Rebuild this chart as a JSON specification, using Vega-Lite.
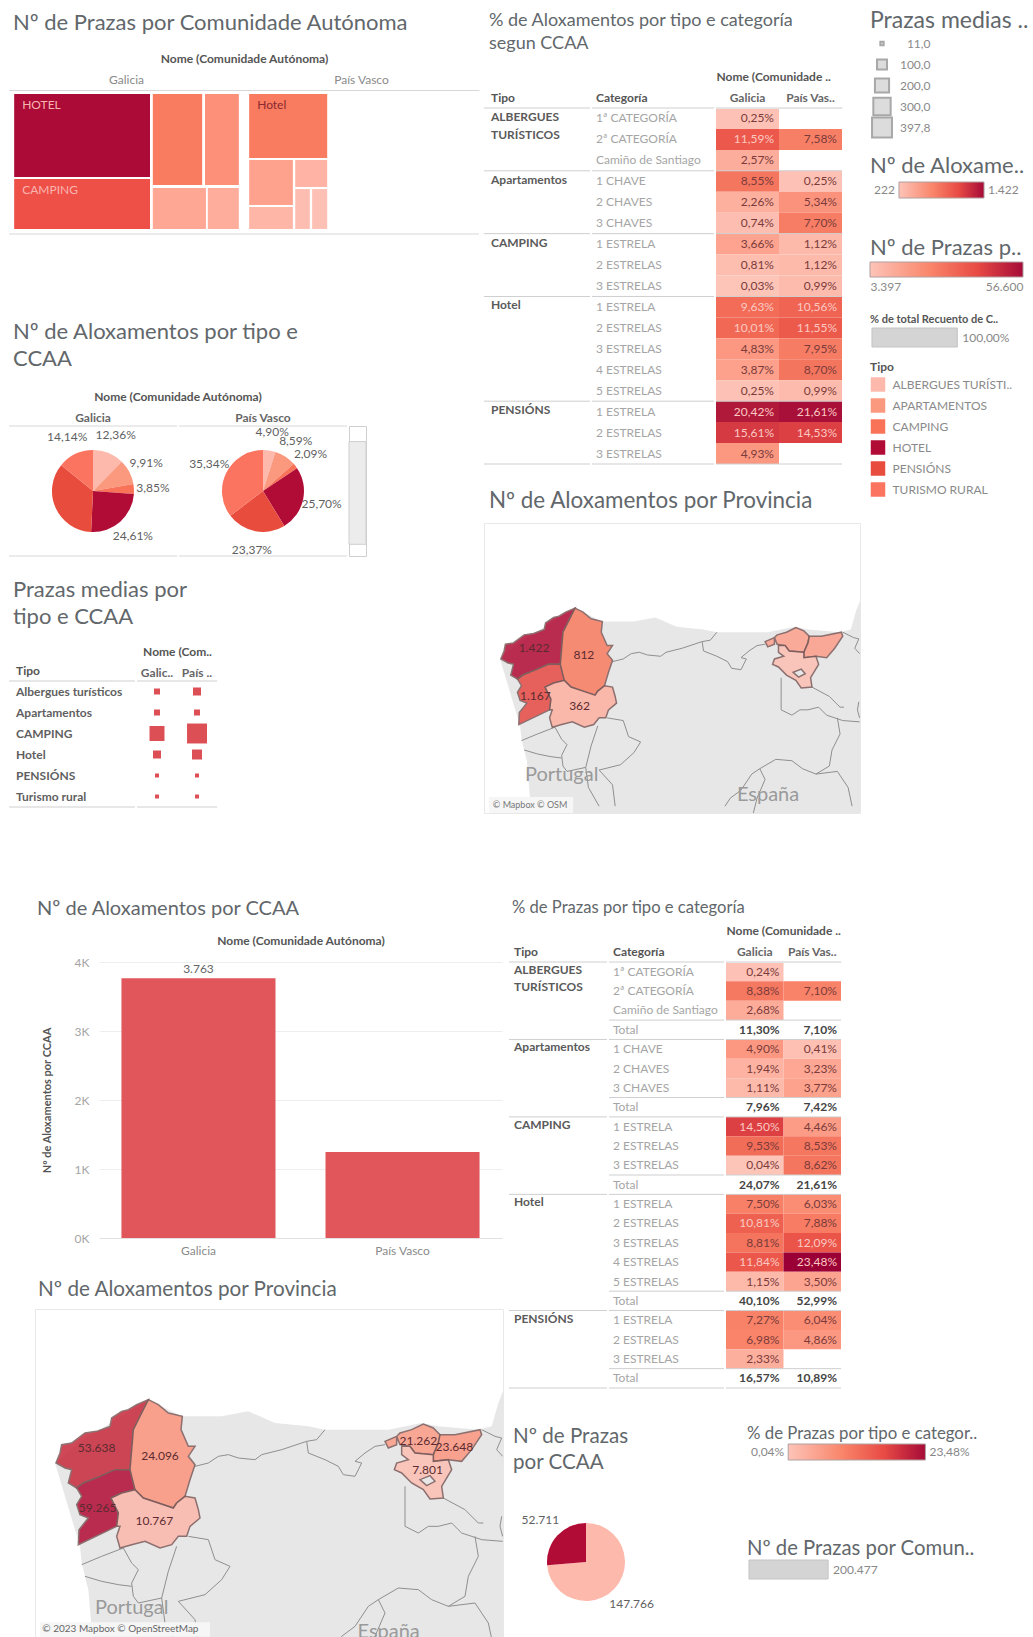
{
"$schema":"https://vega.github.io/schema/vega-lite/v6.json",
"padding":{"left":8,"top":8,"right":0,"bottom":0},
"background":"white",
"config":{"font":"Lato","view":{"stroke":null},"concat":{"spacing":0},
"title":{"anchor":"start","frame":"group","color":"#62676b","fontWeight":"normal","fontSize":22,"lineHeight":27},
"axis":{"grid":false,"ticks":false,"domain":false,"labelColor":"#8a8a8a","titleColor":"#555","labelFontSize":12,"titleFontSize":12,"titleFontWeight":"bold"},
"text":{"fontSize":12}},
"datasets":{
"tipos":[{"tipo":"ALBERGUES TURÍSTI.."},{"tipo":"APARTAMENTOS"},{"tipo":"CAMPING"},{"tipo":"HOTEL"},{"tipo":"PENSIÓNS"},{"tipo":"TURISMO RURAL"}],
"t1f":[{"fila":1,"tipo":"ALBERGUES\nTURÍSTICOS","categoria":"1ª CATEGORÍA","inicio":true},{"fila":2,"categoria":"2ª CATEGORÍA","inicio":false},{"fila":3,"categoria":"Camiño de Santiago","inicio":false},{"fila":4,"tipo":"Apartamentos","categoria":"1 CHAVE","inicio":true},{"fila":5,"categoria":"2 CHAVES","inicio":false},{"fila":6,"categoria":"3 CHAVES","inicio":false},{"fila":7,"tipo":"CAMPING","categoria":"1 ESTRELA","inicio":true},{"fila":8,"categoria":"2 ESTRELAS","inicio":false},{"fila":9,"categoria":"3 ESTRELAS","inicio":false},{"fila":10,"tipo":"Hotel","categoria":"1 ESTRELA","inicio":true},{"fila":11,"categoria":"2 ESTRELAS","inicio":false},{"fila":12,"categoria":"3 ESTRELAS","inicio":false},{"fila":13,"categoria":"4 ESTRELAS","inicio":false},{"fila":14,"categoria":"5 ESTRELAS","inicio":false},{"fila":15,"tipo":"PENSIÓNS","categoria":"1 ESTRELA","inicio":true},{"fila":16,"categoria":"2 ESTRELAS","inicio":false},{"fila":17,"categoria":"3 ESTRELAS","inicio":false}],
"t1":[{"fila":1,"ccaa":"Galicia","pct":0.25,"t":"0,25%"},{"fila":2,"ccaa":"Galicia","pct":11.59,"t":"11,59%"},{"fila":2,"ccaa":"País Vasco","pct":7.58,"t":"7,58%"},{"fila":3,"ccaa":"Galicia","pct":2.57,"t":"2,57%"},{"fila":4,"ccaa":"Galicia","pct":8.55,"t":"8,55%"},{"fila":4,"ccaa":"País Vasco","pct":0.25,"t":"0,25%"},{"fila":5,"ccaa":"Galicia","pct":2.26,"t":"2,26%"},{"fila":5,"ccaa":"País Vasco","pct":5.34,"t":"5,34%"},{"fila":6,"ccaa":"Galicia","pct":0.74,"t":"0,74%"},{"fila":6,"ccaa":"País Vasco","pct":7.70,"t":"7,70%"},{"fila":7,"ccaa":"Galicia","pct":3.66,"t":"3,66%"},{"fila":7,"ccaa":"País Vasco","pct":1.12,"t":"1,12%"},{"fila":8,"ccaa":"Galicia","pct":0.81,"t":"0,81%"},{"fila":8,"ccaa":"País Vasco","pct":1.12,"t":"1,12%"},{"fila":9,"ccaa":"Galicia","pct":0.03,"t":"0,03%"},{"fila":9,"ccaa":"País Vasco","pct":0.99,"t":"0,99%"},{"fila":10,"ccaa":"Galicia","pct":9.63,"t":"9,63%"},{"fila":10,"ccaa":"País Vasco","pct":10.56,"t":"10,56%"},{"fila":11,"ccaa":"Galicia","pct":10.01,"t":"10,01%"},{"fila":11,"ccaa":"País Vasco","pct":11.55,"t":"11,55%"},{"fila":12,"ccaa":"Galicia","pct":4.83,"t":"4,83%"},{"fila":12,"ccaa":"País Vasco","pct":7.95,"t":"7,95%"},{"fila":13,"ccaa":"Galicia","pct":3.87,"t":"3,87%"},{"fila":13,"ccaa":"País Vasco","pct":8.70,"t":"8,70%"},{"fila":14,"ccaa":"Galicia","pct":0.25,"t":"0,25%"},{"fila":14,"ccaa":"País Vasco","pct":0.99,"t":"0,99%"},{"fila":15,"ccaa":"Galicia","pct":20.42,"t":"20,42%"},{"fila":15,"ccaa":"País Vasco","pct":21.61,"t":"21,61%"},{"fila":16,"ccaa":"Galicia","pct":15.61,"t":"15,61%"},{"fila":16,"ccaa":"País Vasco","pct":14.53,"t":"14,53%"},{"fila":17,"ccaa":"Galicia","pct":4.93,"t":"4,93%"}],
"t2f":[{"fila":1,"tipo":"ALBERGUES\nTURÍSTICOS","categoria":"1ª CATEGORÍA","inicio":true,"total":false},{"fila":2,"categoria":"2ª CATEGORÍA","inicio":false,"total":false},{"fila":3,"categoria":"Camiño de Santiago","inicio":false,"total":false},{"fila":4,"categoria":"Total","inicio":false,"total":true},{"fila":5,"tipo":"Apartamentos","categoria":"1 CHAVE","inicio":true,"total":false},{"fila":6,"categoria":"2 CHAVES","inicio":false,"total":false},{"fila":7,"categoria":"3 CHAVES","inicio":false,"total":false},{"fila":8,"categoria":"Total","inicio":false,"total":true},{"fila":9,"tipo":"CAMPING","categoria":"1 ESTRELA","inicio":true,"total":false},{"fila":10,"categoria":"2 ESTRELAS","inicio":false,"total":false},{"fila":11,"categoria":"3 ESTRELAS","inicio":false,"total":false},{"fila":12,"categoria":"Total","inicio":false,"total":true},{"fila":13,"tipo":"Hotel","categoria":"1 ESTRELA","inicio":true,"total":false},{"fila":14,"categoria":"2 ESTRELAS","inicio":false,"total":false},{"fila":15,"categoria":"3 ESTRELAS","inicio":false,"total":false},{"fila":16,"categoria":"4 ESTRELAS","inicio":false,"total":false},{"fila":17,"categoria":"5 ESTRELAS","inicio":false,"total":false},{"fila":18,"categoria":"Total","inicio":false,"total":true},{"fila":19,"tipo":"PENSIÓNS","categoria":"1 ESTRELA","inicio":true,"total":false},{"fila":20,"categoria":"2 ESTRELAS","inicio":false,"total":false},{"fila":21,"categoria":"3 ESTRELAS","inicio":false,"total":false},{"fila":22,"categoria":"Total","inicio":false,"total":true}],
"t2":[{"fila":1,"ccaa":"Galicia","pct":0.24,"t":"0,24%","total":false},{"fila":2,"ccaa":"Galicia","pct":8.38,"t":"8,38%","total":false},{"fila":2,"ccaa":"País Vasco","pct":7.10,"t":"7,10%","total":false},{"fila":3,"ccaa":"Galicia","pct":2.68,"t":"2,68%","total":false},{"fila":4,"ccaa":"Galicia","pct":11.30,"t":"11,30%","total":true},{"fila":4,"ccaa":"País Vasco","pct":7.10,"t":"7,10%","total":true},{"fila":5,"ccaa":"Galicia","pct":4.90,"t":"4,90%","total":false},{"fila":5,"ccaa":"País Vasco","pct":0.41,"t":"0,41%","total":false},{"fila":6,"ccaa":"Galicia","pct":1.94,"t":"1,94%","total":false},{"fila":6,"ccaa":"País Vasco","pct":3.23,"t":"3,23%","total":false},{"fila":7,"ccaa":"Galicia","pct":1.11,"t":"1,11%","total":false},{"fila":7,"ccaa":"País Vasco","pct":3.77,"t":"3,77%","total":false},{"fila":8,"ccaa":"Galicia","pct":7.96,"t":"7,96%","total":true},{"fila":8,"ccaa":"País Vasco","pct":7.42,"t":"7,42%","total":true},{"fila":9,"ccaa":"Galicia","pct":14.50,"t":"14,50%","total":false},{"fila":9,"ccaa":"País Vasco","pct":4.46,"t":"4,46%","total":false},{"fila":10,"ccaa":"Galicia","pct":9.53,"t":"9,53%","total":false},{"fila":10,"ccaa":"País Vasco","pct":8.53,"t":"8,53%","total":false},{"fila":11,"ccaa":"Galicia","pct":0.04,"t":"0,04%","total":false},{"fila":11,"ccaa":"País Vasco","pct":8.62,"t":"8,62%","total":false},{"fila":12,"ccaa":"Galicia","pct":24.07,"t":"24,07%","total":true},{"fila":12,"ccaa":"País Vasco","pct":21.61,"t":"21,61%","total":true},{"fila":13,"ccaa":"Galicia","pct":7.50,"t":"7,50%","total":false},{"fila":13,"ccaa":"País Vasco","pct":6.03,"t":"6,03%","total":false},{"fila":14,"ccaa":"Galicia","pct":10.81,"t":"10,81%","total":false},{"fila":14,"ccaa":"País Vasco","pct":7.88,"t":"7,88%","total":false},{"fila":15,"ccaa":"Galicia","pct":8.81,"t":"8,81%","total":false},{"fila":15,"ccaa":"País Vasco","pct":12.09,"t":"12,09%","total":false},{"fila":16,"ccaa":"Galicia","pct":11.84,"t":"11,84%","total":false},{"fila":16,"ccaa":"País Vasco","pct":23.48,"t":"23,48%","total":false},{"fila":17,"ccaa":"Galicia","pct":1.15,"t":"1,15%","total":false},{"fila":17,"ccaa":"País Vasco","pct":3.50,"t":"3,50%","total":false},{"fila":18,"ccaa":"Galicia","pct":40.10,"t":"40,10%","total":true},{"fila":18,"ccaa":"País Vasco","pct":52.99,"t":"52,99%","total":true},{"fila":19,"ccaa":"Galicia","pct":7.27,"t":"7,27%","total":false},{"fila":19,"ccaa":"País Vasco","pct":6.04,"t":"6,04%","total":false},{"fila":20,"ccaa":"Galicia","pct":6.98,"t":"6,98%","total":false},{"fila":20,"ccaa":"País Vasco","pct":4.86,"t":"4,86%","total":false},{"fila":21,"ccaa":"Galicia","pct":2.33,"t":"2,33%","total":false},{"fila":22,"ccaa":"Galicia","pct":16.57,"t":"16,57%","total":true},{"fila":22,"ccaa":"País Vasco","pct":10.89,"t":"10,89%","total":true}],
"terra":[{"type":"Feature","properties":{"capa":"terra"},"geometry":{"type":"Polygon","coordinates":[[[175,830],[180,880],[200,960],[212,1100],[205,1210],[1450,1210],[1450,350],[1430,400],[1410,470],[1370,480],[1250,470],[1200,460],[1100,480],[1000,480],[910,480],[860,470],[760,460],[680,425],[600,440],[480,440],[380,390],[170,520],[100,580],[175,830]]]}}],
"linas":[{"type":"Feature","properties":{"capa":"fronteiras"},"geometry":{"type":"MultiLineString","coordinates":[[[520,590],[560,580],[590,560],[620,555],[650,565],[700,570],[720,555],[780,540],[855,515],[885,510],[910,480]],[[855,515],[860,550],[910,570],[950,590],[965,615],[1000,620],[1020,580],[1000,575],[1030,550],[1060,530],[1090,525]],[[1150,650],[1150,740],[1150,770],[1190,790],[1220,770],[1250,770],[1290,760],[1320,790],[1380,810],[1443,815]],[[1265,685],[1330,720],[1370,760],[1385,760]],[[1380,480],[1420,500],[1440,505],[1425,540],[1443,560]],[[1360,800],[1370,860],[1340,920],[1330,980],[1280,1010],[1230,990],[1190,960],[1130,955],[1070,990],[1040,1010],[1000,1070],[960,1100],[940,1130]],[[1070,990],[1090,1030],[1060,1100],[1040,1180]],[[1280,1010],[1360,1000],[1400,1060],[1415,1130]],[[1440,740],[1435,770],[1443,800]],[[180,885],[240,860],[305,835],[330,880],[350,900],[330,940],[335,980],[350,1000],[420,985],[440,905],[465,830]],[[500,800],[560,810],[580,870],[625,890],[600,930],[550,975],[470,995],[520,1050],[530,1130]],[[190,920],[240,935],[290,945],[330,950]],[[420,985],[430,1060],[470,1130]]]}}],
"provincias":[
{"type":"Feature","properties":{"nome":"A Coruña","aloxamentos":1422,"prazas":53638},"geometry":{"type":"Polygon","coordinates":[[[380,390],[345,405],[320,420],[300,425],[270,445],[265,470],[225,485],[190,490],[150,520],[120,525],[115,550],[103,580],[130,595],[150,600],[140,640],[165,655],[185,640],[235,620],[280,600],[325,600],[330,540],[335,480],[360,430],[380,390]]]}},
{"type":"Feature","properties":{"nome":"Pontevedra","aloxamentos":1167,"prazas":59265},"geometry":{"type":"Polygon","coordinates":[[[185,640],[235,620],[280,600],[325,600],[340,660],[300,670],[268,685],[290,730],[285,770],[170,825],[172,780],[200,745],[175,735],[165,705],[180,680],[165,655],[185,640]]]}},
{"type":"Feature","properties":{"nome":"Lugo","aloxamentos":812,"prazas":24096},"geometry":{"type":"Polygon","coordinates":[[[380,390],[410,405],[440,430],[482,440],[478,480],[500,530],[520,530],[500,560],[520,585],[505,630],[490,680],[465,700],[455,715],[410,700],[365,685],[340,660],[325,600],[330,540],[335,480],[360,430],[380,390]]]}},
{"type":"Feature","properties":{"nome":"Ourense","aloxamentos":362,"prazas":10767},"geometry":{"type":"Polygon","coordinates":[[[268,685],[300,670],[340,660],[365,685],[410,700],[455,715],[465,700],[490,680],[520,685],[530,720],[535,745],[505,770],[495,800],[470,800],[450,825],[415,835],[370,815],[330,825],[295,835],[285,800],[295,770],[285,770],[290,730],[268,685]]]}},
{"type":"Feature","properties":{"nome":"Bizkaia","aloxamentos":500,"prazas":21262},"geometry":{"type":"MultiPolygon","coordinates":[[[[1135,490],[1170,480],[1205,463],[1235,475],[1255,495],[1250,520],[1235,555],[1180,550],[1165,530],[1135,525],[1125,500],[1135,490]]],[[[1090,515],[1125,500],[1125,525],[1100,535],[1090,515]]]]}},
{"type":"Feature","properties":{"nome":"Gipuzkoa","aloxamentos":526,"prazas":23648},"geometry":{"type":"Polygon","coordinates":[[[1255,495],[1300,495],[1375,480],[1380,495],[1350,540],[1320,575],[1280,570],[1235,575],[1235,555],[1250,520],[1255,495]]]}},
{"type":"Feature","properties":{"nome":"Araba","aloxamentos":222,"prazas":7801},"geometry":{"type":"Polygon","coordinates":[[[1140,530],[1165,530],[1180,550],[1235,555],[1235,575],[1280,570],[1290,600],[1260,650],[1265,685],[1225,688],[1205,660],[1170,640],[1140,610],[1118,600],[1125,580],[1160,570],[1140,555],[1140,530]],[[1195,630],[1215,648],[1240,635],[1225,618],[1195,630]]]}}
],
"nomes":[{"lon":330,"lat":1015,"t":"Portugal"},{"lon":1101,"lat":1088,"t":"España"}]
},
"resolve":{"scale":{"color":"independent","size":"independent"}},
"vconcat":[
{"resolve":{"scale":{"color":"independent","size":"independent"}},"hconcat":[
 {"resolve":{"scale":{"color":"independent","size":"independent"}},"vconcat":[
  {"width":10,"height":4,"data":{"values":[{}]},"mark":{"type":"point","opacity":0,"size":1},"encoding":{}},
  {"width":470,"height":144,"title":{"text":"Nº de Prazas por Comunidade Autónoma","dx":4,"offset":17},
   "layer":[
    {"data":{"values":[{"ccaa":"Galicia"},{"ccaa":"País Vasco"}]},"mark":{"type":"point","opacity":0,"size":1},
     "encoding":{"x":{"field":"ccaa","type":"nominal","title":"Nome (Comunidade Autónoma)","scale":{"type":"band","padding":0},"axis":{"orient":"top","labelAngle":0,"domain":true,"domainColor":"#d8d8d8","labelPadding":4,"titlePadding":8}}}},
    {"data":{"values":[{"ccaa":"Galicia","tipo":"Hotel","prazas":56600,"x0":1.1,"x1":30,"y0":2.8,"y1":60.4,"t":"HOTEL"},{"ccaa":"Galicia","tipo":"Camping","prazas":33000,"x0":1.1,"x1":30,"y0":61.8,"y1":96.5,"t":"CAMPING"},{"ccaa":"Galicia","tipo":"Pensións","prazas":17000,"x0":30.6,"x1":41.1,"y0":2.8,"y1":66,"t":""},{"ccaa":"Galicia","tipo":"Turismo rural","prazas":13000,"x0":41.7,"x1":48.9,"y0":2.8,"y1":66,"t":""},{"ccaa":"Galicia","tipo":"Albergues","prazas":8500,"x0":30.6,"x1":41.9,"y0":68,"y1":96.5,"t":""},{"ccaa":"Galicia","tipo":"Apartamentos","prazas":7500,"x0":42.3,"x1":48.9,"y0":68,"y1":96.5,"t":""},{"ccaa":"País Vasco","tipo":"Hotel","prazas":17000,"x0":51.1,"x1":67.7,"y0":2.8,"y1":47.2,"t":"Hotel"},{"ccaa":"País Vasco","tipo":"Camping","prazas":9500,"x0":51.1,"x1":60.4,"y0":48.6,"y1":79.9,"t":""},{"ccaa":"País Vasco","tipo":"Turismo rural","prazas":6000,"x0":60.9,"x1":67.7,"y0":48.6,"y1":67.4,"t":""},{"ccaa":"País Vasco","tipo":"Pensións","prazas":5500,"x0":51.1,"x1":60.4,"y0":81.3,"y1":96.5,"t":""},{"ccaa":"País Vasco","tipo":"Albergues","prazas":4000,"x0":60.9,"x1":64,"y0":68.8,"y1":96.5,"t":""},{"ccaa":"País Vasco","tipo":"Apartamentos","prazas":3397,"x0":64.5,"x1":67.7,"y0":68.8,"y1":96.5,"t":""}]},
     "layer":[
      {"mark":{"type":"rect"},"encoding":{"x":{"field":"x0","type":"quantitative","scale":{"domain":[0,100]},"axis":null},"x2":{"field":"x1"},"y":{"field":"y0","type":"quantitative","scale":{"domain":[100,0]},"axis":null},"y2":{"field":"y1"},"color":{"field":"prazas","type":"quantitative","legend":null,"scale":{"domain":[3397,17000,33000,56600],"range":["#fdc0b4","#f97b60","#ee5048","#ab0b36"]}}}},
      {"mark":{"type":"text","align":"left","dx":8,"dy":11},"encoding":{"x":{"field":"x0","type":"quantitative","scale":{"domain":[0,100]},"axis":null},"y":{"field":"y0","type":"quantitative","scale":{"domain":[100,0]},"axis":null},"text":{"field":"t"},"color":{"condition":{"test":"datum.t=='Hotel'","value":"#8a2a30"},"value":"#f9b4b0"}}}
     ]},
    {"data":{"values":[{"limite":100}]},"mark":{"type":"rule","color":"#d8d8d8"},"encoding":{"y":{"field":"limite","type":"quantitative","scale":{"domain":[100,0]},"axis":null}}}
   ],
   "resolve":{"scale":{"x":"independent"}}},
  {"width":10,"height":86,"data":{"values":[{}]},"mark":{"type":"point","opacity":0,"size":1},"encoding":{}},
  {"title":{"text":["Nº de Aloxamentos por tipo e","CCAA"],"dx":4,"offset":20},
   "hconcat":[
    {"data":{"values":[{"ccaa":"Galicia","tipo":"ALBERGUES TURÍSTI..","v":12.36,"orde":1,"t":"12,36%"},{"ccaa":"Galicia","tipo":"APARTAMENTOS","v":9.91,"orde":2,"t":"9,91%"},{"ccaa":"Galicia","tipo":"CAMPING","v":3.85,"orde":3,"t":"3,85%"},{"ccaa":"Galicia","tipo":"HOTEL","v":24.61,"orde":4,"t":"24,61%"},{"ccaa":"Galicia","tipo":"PENSIÓNS","v":35.13,"orde":5,"t":""},{"ccaa":"Galicia","tipo":"TURISMO RURAL","v":14.14,"orde":6,"t":"14,14%"},{"ccaa":"País Vasco","tipo":"ALBERGUES TURÍSTI..","v":4.9,"orde":1,"t":"4,90%"},{"ccaa":"País Vasco","tipo":"APARTAMENTOS","v":8.59,"orde":2,"t":"8,59%"},{"ccaa":"País Vasco","tipo":"CAMPING","v":2.09,"orde":3,"t":"2,09%"},{"ccaa":"País Vasco","tipo":"HOTEL","v":25.7,"orde":4,"t":"25,70%"},{"ccaa":"País Vasco","tipo":"PENSIÓNS","v":23.37,"orde":5,"t":"23,37%"},{"ccaa":"País Vasco","tipo":"TURISMO RURAL","v":35.34,"orde":6,"t":"35,34%"}]},
     "spacing":0,
     "facet":{"column":{"field":"ccaa","type":"nominal","header":{"title":"Nome (Comunidade Autónoma)","titleFontSize":12,"titleFontWeight":"bold","titleColor":"#555","titlePadding":-2,"labelFontSize":12,"labelColor":"#666","labelPadding":0,"labelFontWeight":"bold"}}},
     "spec":{"width":168,"height":130,"layer":[
      {"mark":{"type":"arc","outerRadius":41},"encoding":{"theta":{"field":"v","type":"quantitative","stack":true},"order":{"field":"orde","type":"quantitative"},"color":{"field":"tipo","type":"nominal","legend":null,"scale":{"domain":["ALBERGUES TURÍSTI..","APARTAMENTOS","CAMPING","HOTEL","PENSIÓNS","TURISMO RURAL"],"range":["#fcb9ac","#fb997f","#f97359","#b10c35","#e84c3d","#fb7460"]}}}},
      {"mark":{"type":"text","radius":60,"color":"#5f5f5f"},"encoding":{"theta":{"field":"v","type":"quantitative","stack":true},"order":{"field":"orde","type":"quantitative"},"text":{"field":"t"}}},
      {"data":{"values":[{"limite":0},{"limite":1}]},"mark":{"type":"rule","color":"#d8d8d8"},"encoding":{"y":{"field":"limite","type":"quantitative","scale":{"domain":[0,1]},"axis":null}}}
     ]}},
    {"width":17,"height":130,"view":{"stroke":"#cfcfcf"},"data":{"values":[{"desde":0.12,"ata":0.91}]},"mark":{"type":"rect","fill":"#ececec","stroke":"#cfcfcf"},"encoding":{"y":{"field":"desde","type":"quantitative","scale":{"domain":[1,0]},"axis":null},"y2":{"field":"ata"}}}
   ]},
  {"width":10,"height":22,"data":{"values":[{}]},"mark":{"type":"point","opacity":0,"size":1},"encoding":{}},
  {"title":{"text":["Prazas medias por","tipo e CCAA"],"dx":4,"offset":16},
   "hconcat":[
    {"width":126,"height":126,"title":{"text":"Tipo","fontSize":12,"fontWeight":"bold","color":"#555","dx":7,"offset":3},
     "data":{"values":[{"t":"Albergues turísticos"},{"t":"Apartamentos"},{"t":"CAMPING"},{"t":"Hotel"},{"t":"PENSIÓNS"},{"t":"Turismo rural"}]},
     "layer":[
      {"mark":{"type":"text","align":"left","dx":7,"fontWeight":"bold","color":"#5f5f5f"},"encoding":{"x":{"datum":0,"type":"quantitative","scale":{"domain":[0,1]},"axis":null},"y":{"field":"t","type":"nominal","sort":null,"axis":null,"scale":{"type":"band","padding":0}},"text":{"field":"t"}}},
      {"data":{"values":[{"limite":0},{"limite":1}]},"mark":{"type":"rule","color":"#cfcfcf"},"encoding":{"y":{"field":"limite","type":"quantitative","scale":{"domain":[1,0]},"axis":null}}}
     ],"resolve":{"scale":{"y":"independent"}}},
    {"width":80,"height":126,
     "layer":[
      {"data":{"values":[{"t":"Albergues turísticos","ccaa":"Galicia","v":36},{"t":"Albergues turísticos","ccaa":"País Vasco","v":64},{"t":"Apartamentos","ccaa":"Galicia","v":36},{"t":"Apartamentos","ccaa":"País Vasco","v":36},{"t":"CAMPING","ccaa":"Galicia","v":225},{"t":"CAMPING","ccaa":"País Vasco","v":397.8},{"t":"Hotel","ccaa":"Galicia","v":64},{"t":"Hotel","ccaa":"País Vasco","v":100},{"t":"PENSIÓNS","ccaa":"Galicia","v":16},{"t":"PENSIÓNS","ccaa":"País Vasco","v":16},{"t":"Turismo rural","ccaa":"Galicia","v":16},{"t":"Turismo rural","ccaa":"País Vasco","v":16}]},
       "mark":{"type":"square","opacity":1,"color":"#dc4f55"},"encoding":{"x":{"field":"ccaa","type":"nominal","title":"Nome (Com..","scale":{"type":"band","padding":0},"axis":{"orient":"top","labelAngle":0,"labelColor":"#666","labelFontWeight":"bold","labelPadding":2,"titlePadding":8,"labelExpr":"datum.value=='Galicia'?'Galic..':'País ..'"}},"y":{"field":"t","type":"nominal","sort":null,"axis":null,"scale":{"type":"band","padding":0}},"size":{"field":"v","type":"quantitative","legend":null,"scale":{"domain":[0,400],"range":[0,400]}}}},
      {"data":{"values":[{"limite":0},{"limite":1}]},"mark":{"type":"rule","color":"#cfcfcf"},"encoding":{"y":{"field":"limite","type":"quantitative","scale":{"domain":[1,0]},"axis":null}}}
     ],"resolve":{"scale":{"y":"independent"}}}
   ]}
 ]},
 {"width":3,"height":10,"data":{"values":[{}]},"mark":{"type":"point","opacity":0,"size":1},"encoding":{}},
 {"resolve":{"scale":{"color":"independent","size":"independent"}},"vconcat":[
  {"width":10,"height":4,"data":{"values":[{}]},"mark":{"type":"point","opacity":0,"size":1},"encoding":{}},
  {"title":{"text":["% de Aloxamentos por tipo e categoría","segun CCAA"],"fontSize":18,"lineHeight":23,"dx":5,"offset":17},
   "hconcat":[
    {"width":106,"height":356,"title":{"text":"Tipo","fontSize":12,"fontWeight":"bold","color":"#555","dx":7,"offset":3},"data":{"name":"t1f"},
     "layer":[
      {"transform":[{"filter":"datum.inicio"}],"mark":{"type":"rule","color":"#cfcfcf"},"encoding":{"y":{"field":"fila","type":"ordinal","bandPosition":0,"axis":null,"scale":{"type":"band","padding":0,"domain":[1,2,3,4,5,6,7,8,9,10,11,12,13,14,15,16,17]}}}},
      {"transform":[{"filter":"datum.fila==17"}],"mark":{"type":"rule","color":"#cfcfcf"},"encoding":{"y":{"field":"fila","type":"ordinal","bandPosition":1,"axis":null,"scale":{"type":"band","padding":0,"domain":[1,2,3,4,5,6,7,8,9,10,11,12,13,14,15,16,17]}}}},
      {"transform":[{"filter":"datum.inicio"}],"mark":{"type":"text","align":"left","baseline":"top","dx":7,"dy":4,"lineBreak":"\n","lineHeight":18,"fontWeight":"bold","color":"#5a5a5a"},"encoding":{"x":{"datum":0,"type":"quantitative","scale":{"domain":[0,1]},"axis":null},"y":{"field":"fila","type":"ordinal","bandPosition":0,"axis":null,"scale":{"type":"band","padding":0,"domain":[1,2,3,4,5,6,7,8,9,10,11,12,13,14,15,16,17]}},"text":{"field":"tipo"}}}
     ]},
    {"width":122,"height":356,"title":{"text":"Categoría","fontSize":12,"fontWeight":"bold","color":"#555","dx":4,"offset":3},"data":{"name":"t1f"},
     "layer":[
      {"transform":[{"filter":"datum.inicio"}],"mark":{"type":"rule","color":"#cfcfcf"},"encoding":{"y":{"field":"fila","type":"ordinal","bandPosition":0,"axis":null,"scale":{"type":"band","padding":0,"domain":[1,2,3,4,5,6,7,8,9,10,11,12,13,14,15,16,17]}}}},
      {"transform":[{"filter":"datum.fila==17"}],"mark":{"type":"rule","color":"#cfcfcf"},"encoding":{"y":{"field":"fila","type":"ordinal","bandPosition":1,"axis":null,"scale":{"type":"band","padding":0,"domain":[1,2,3,4,5,6,7,8,9,10,11,12,13,14,15,16,17]}}}},
      {"mark":{"type":"text","align":"left","dx":4,"color":"#a5a5a5"},"encoding":{"x":{"datum":0,"type":"quantitative","scale":{"domain":[0,1]},"axis":null},"y":{"field":"fila","type":"ordinal","axis":null,"scale":{"type":"band","padding":0,"domain":[1,2,3,4,5,6,7,8,9,10,11,12,13,14,15,16,17]}},"text":{"field":"categoria"}}}
     ]},
    {"width":126,"height":356,
     "layer":[
      {"data":{"name":"t1"},"mark":{"type":"rect"},"encoding":{"x":{"field":"ccaa","type":"nominal","title":"Nome (Comunidade ..","scale":{"type":"band","padding":0,"domain":["Galicia","País Vasco"]},"axis":{"orient":"top","labelAngle":0,"labelColor":"#666","labelFontWeight":"bold","labelPadding":4,"titlePadding":8,"titleAnchor":"start","domain":true,"domainColor":"#e4e4e4","labelExpr":"datum.value=='Galicia'?'Galicia':'País Vas..'"}},"y":{"field":"fila","type":"ordinal","axis":null,"scale":{"type":"band","padding":0,"domain":[1,2,3,4,5,6,7,8,9,10,11,12,13,14,15,16,17]}},"color":{"field":"pct","type":"quantitative","legend":null,"scale":{"domain":[0,7,13,22],"range":["#fdc4b8","#f98469","#e84a44","#a50b38"]}}}},
      {"data":{"name":"t1"},"mark":{"type":"text","align":"right","dx":-5},"encoding":{"x":{"field":"ccaa","type":"nominal","bandPosition":1,"scale":{"type":"band","padding":0,"domain":["Galicia","País Vasco"]}},"y":{"field":"fila","type":"ordinal","axis":null,"scale":{"type":"band","padding":0,"domain":[1,2,3,4,5,6,7,8,9,10,11,12,13,14,15,16,17]}},"text":{"field":"t"},"color":{"condition":{"test":"datum.pct>=9.6","value":"#fbc9c2"},"value":"#7b3b3b"}}},
      {"data":{"name":"t1f"},"transform":[{"filter":"datum.inicio"}],"mark":{"type":"rule","color":"#cfcfcf"},"encoding":{"y":{"field":"fila","type":"ordinal","bandPosition":0,"axis":null,"scale":{"type":"band","padding":0,"domain":[1,2,3,4,5,6,7,8,9,10,11,12,13,14,15,16,17]}}}},
      {"data":{"name":"t1f"},"transform":[{"filter":"datum.fila==17"}],"mark":{"type":"rule","color":"#cfcfcf"},"encoding":{"y":{"field":"fila","type":"ordinal","bandPosition":1,"axis":null,"scale":{"type":"band","padding":0,"domain":[1,2,3,4,5,6,7,8,9,10,11,12,13,14,15,16,17]}}}}
     ]}
   ]},
  {"width":10,"height":24,"data":{"values":[{}]},"mark":{"type":"point","opacity":0,"size":1},"encoding":{}},
  {"width":376,"height":290,"view":{"stroke":"#e8e8e8"},"title":{"text":"Nº de Aloxamentos por Provincia","fontSize":22.4,"dx":5,"offset":11},
   "projection":{"type":"identity","scale":0.2677,"translate":[-10.7,-19.3],"precision":0.75},
   "layer":[
    {"data":{"name":"terra"},"mark":{"type":"geoshape","clip":true,"fill":"#e7e7e7","stroke":null}},
    {"data":{"name":"linas"},"mark":{"type":"geoshape","clip":true,"filled":false,"stroke":"#8f8f8f","strokeWidth":1}},
    {"data":{"name":"provincias"},"mark":{"type":"geoshape","clip":true,"stroke":"#7d5b5b","strokeWidth":1.5,"opacity":0.85},"encoding":{"color":{"field":"properties.aloxamentos","type":"quantitative","legend":null,"scale":{"domain":[222,812,1167,1422],"range":["#fdc0b4","#f97b60","#e84a44","#b10c35"]}}}},
    {"data":{"values":[{"lon":227,"lat":538,"t":"1.422"},{"lon":413,"lat":565,"t":"812"},{"lon":397,"lat":756,"t":"362"},{"lon":232,"lat":718,"t":"1.167"}]},"mark":{"type":"text","baseline":"middle","color":"#5c2a30","fontSize":12},"encoding":{"longitude":{"field":"lon","type":"quantitative"},"latitude":{"field":"lat","type":"quantitative"},"text":{"field":"t"}}},
    {"data":{"name":"nomes"},"mark":{"type":"text","baseline":"middle","color":"#9a9a9a","fontSize":20},"encoding":{"longitude":{"field":"lon","type":"quantitative"},"latitude":{"field":"lat","type":"quantitative"},"text":{"field":"t"}}},
    {"data":{"values":[{"type":"Feature","properties":{"capa":"nota"},"geometry":{"type":"Polygon","coordinates":[[[59,1096],[373,1096],[373,1156],[59,1156],[59,1096]]]}}]},"mark":{"type":"geoshape","clip":true,"fill":"#f6f6f6","stroke":null}},
    {"data":{"values":[{"lon":73,"lat":1124,"t":"© Mapbox © OSM"}]},"mark":{"type":"text","baseline":"middle","align":"left","color":"#777","fontSize":9},"encoding":{"longitude":{"field":"lon","type":"quantitative"},"latitude":{"field":"lat","type":"quantitative"},"text":{"field":"t"}}}
   ]}
 ]},
 {"width":7,"height":10,"data":{"values":[{}]},"mark":{"type":"point","opacity":0,"size":1},"encoding":{}},
 {"resolve":{"scale":{"color":"independent","size":"independent"}},"vconcat":[
  {"width":10,"height":1,"data":{"values":[{}]},"mark":{"type":"point","opacity":0,"size":1},"encoding":{}},
  {"width":24,"height":105,"title":{"text":"Prazas medias ..","fontSize":23,"offset":0.5},
   "data":{"values":[{"t":"11,0","v":11},{"t":"100,0","v":100},{"t":"200,0","v":200},{"t":"300,0","v":300},{"t":"397,8","v":397.8}]},
   "mark":{"type":"square","opacity":1,"fill":"#dcdcdc","stroke":"#a8a8a8"},
   "encoding":{"y":{"field":"t","type":"nominal","sort":null,"title":null,"scale":{"type":"band","padding":0},"axis":{"orient":"right","labelAlign":"right","labelPadding":36}},"size":{"field":"v","type":"quantitative","legend":null,"scale":{"domain":[0,400],"range":[0,400]}}}},
  {"width":10,"height":12,"data":{"values":[{}]},"mark":{"type":"point","opacity":0,"size":1},"encoding":{}},
  {"width":153,"height":16,"title":{"text":"Nº de Aloxame..","fontSize":22,"offset":4},
   "data":{"values":[{"min":222,"max":1422}]},
   "layer":[
    {"mark":{"type":"rect","stroke":"#b0a0a0","fill":{"gradient":"linear","x1":0,"x2":1,"y1":0,"y2":0,"stops":[{"offset":0,"color":"#fdc4b8"},{"offset":0.4,"color":"#f98469"},{"offset":0.7,"color":"#e84a44"},{"offset":1,"color":"#a50b38"}]}},"encoding":{"x":{"field":"min","type":"quantitative","axis":null,"scale":{"domain":[-187,1972]}},"x2":{"field":"max"}}},
    {"mark":{"type":"text","align":"right","dx":-4,"color":"#888"},"encoding":{"x":{"field":"min","type":"quantitative","axis":null,"scale":{"domain":[-187,1972]}},"text":{"value":"222"}}},
    {"mark":{"type":"text","align":"left","dx":4,"color":"#888"},"encoding":{"x":{"field":"max","type":"quantitative","axis":null,"scale":{"domain":[-187,1972]}},"text":{"value":"1.422"}}}
   ]},
  {"width":10,"height":37,"data":{"values":[{}]},"mark":{"type":"point","opacity":0,"size":1},"encoding":{}},
  {"width":153,"height":15,"title":{"text":"Nº de Prazas p..","fontSize":22,"offset":2},
   "data":{"values":[{"min":3397,"max":56600}]},
   "mark":{"type":"rect","stroke":"#b0a0a0","fill":{"gradient":"linear","x1":0,"x2":1,"y1":0,"y2":0,"stops":[{"offset":0,"color":"#fdc4b8"},{"offset":0.4,"color":"#f98469"},{"offset":0.7,"color":"#e84a44"},{"offset":1,"color":"#a50b38"}]}},
   "encoding":{"x":{"field":"min","type":"quantitative","title":null,"scale":{"domain":[3397,56600]},"axis":{"values":[3397,56600],"labelFlush":true,"labelPadding":4,"labelExpr":"datum.value<10000?'3.397':'56.600'"}},"x2":{"field":"max"}}},
  {"width":10,"height":21,"data":{"values":[{}]},"mark":{"type":"point","opacity":0,"size":1},"encoding":{}},
  {"width":153,"height":19,"title":{"text":"% de total Recuento de C..","fontSize":11,"fontWeight":"bold","color":"#555","offset":3},
   "data":{"values":[{"min":0,"v":100}]},
   "layer":[
    {"mark":{"type":"rect","fill":"#d4d4d4","stroke":"#c4c4c4"},"encoding":{"x":{"field":"min","type":"quantitative","axis":null,"scale":{"domain":[-2.3,177]}},"x2":{"field":"v"}}},
    {"mark":{"type":"text","align":"left","dx":5,"color":"#888"},"encoding":{"x":{"field":"v","type":"quantitative","axis":null,"scale":{"domain":[-2.3,177]}},"text":{"value":"100,00%"}}}
   ]},
  {"width":10,"height":13,"data":{"values":[{}]},"mark":{"type":"point","opacity":0,"size":1},"encoding":{}},
  {"width":16,"height":126,"title":{"text":"Tipo","fontSize":12,"fontWeight":"bold","color":"#555","offset":0},
   "data":{"name":"tipos"},
   "mark":{"type":"square","size":210,"opacity":1},
   "encoding":{"y":{"field":"tipo","type":"nominal","sort":null,"title":null,"scale":{"type":"band","padding":0},"axis":{"orient":"right","labelPadding":6,"labelLimit":0}},"color":{"field":"tipo","type":"nominal","legend":null,"sort":null,"scale":{"domain":["ALBERGUES TURÍSTI..","APARTAMENTOS","CAMPING","HOTEL","PENSIÓNS","TURISMO RURAL"],"range":["#fcb9ac","#fb997f","#f97359","#b10c35","#e84c3d","#fb7460"]}}}}
 ]}
]},
{"width":10,"height":84,"data":{"values":[{}]},"mark":{"type":"point","opacity":0,"size":1},"encoding":{}},
{"resolve":{"scale":{"color":"independent","size":"independent"}},"hconcat":[
 {"width":25,"height":10,"data":{"values":[{}]},"mark":{"type":"point","opacity":0,"size":1},"encoding":{}},
 {"align":"none","resolve":{"scale":{"color":"independent","size":"independent"}},"vconcat":[
  {"width":10,"height":1,"data":{"values":[{}]},"mark":{"type":"point","opacity":0,"size":1},"encoding":{}},
  {"hconcat":[
   {"width":2,"height":10,"data":{"values":[{}]},"mark":{"type":"point","opacity":0,"size":1},"encoding":{}},
   {"width":403,"height":276,"title":{"text":"Nº de Aloxamentos por CCAA","fontSize":20,"dx":-62,"offset":15},
    "data":{"values":[{"ccaa":"Galicia","v":3763,"t":"3.763"},{"ccaa":"País Vasco","v":1248,"t":""}]},
    "layer":[
     {"mark":{"type":"bar","color":"#e0565b"},"encoding":{"x":{"field":"ccaa","type":"nominal","title":"Nome (Comunidade Autónoma)","scale":{"type":"band","paddingInner":0.245,"paddingOuter":0.11},"axis":{"labelAngle":0,"domain":true,"domainColor":"#e2e2e2","labelPadding":7,"titleY":-303}},"y":{"field":"v","type":"quantitative","title":"Nº de Aloxamentos por CCAA","scale":{"domain":[0,4000]},"axis":{"values":[0,1000,2000,3000,4000],"grid":true,"gridColor":"#eeeeee","labelExpr":"(datum.value/1000)+'K'","labelPadding":10,"titlePadding":22,"titleFontSize":11,"labelColor":"#a5a5a5"}}}},
     {"mark":{"type":"text","dy":-9,"color":"#666"},"encoding":{"x":{"field":"ccaa","type":"nominal"},"y":{"field":"v","type":"quantitative"},"text":{"field":"t"}}}
    ]}
  ],"spacing":0},
  {"width":10,"height":22,"data":{"values":[{}]},"mark":{"type":"point","opacity":0,"size":1},"encoding":{}},
  {"width":468,"height":328,"view":{"stroke":"#e8e8e8"},"title":{"text":"Nº de Aloxamentos por Provincia","fontSize":20.7,"dx":3,"offset":8},
   "projection":{"type":"identity","scale":0.33333,"translate":[-13.33,-39.33],"precision":0.7},
   "layer":[
    {"data":{"name":"terra"},"mark":{"type":"geoshape","clip":true,"fill":"#e7e7e7","stroke":null}},
    {"data":{"name":"linas"},"mark":{"type":"geoshape","clip":true,"filled":false,"stroke":"#8f8f8f","strokeWidth":1}},
    {"data":{"name":"provincias"},"mark":{"type":"geoshape","clip":true,"stroke":"#7d5b5b","strokeWidth":1.5,"opacity":0.85},"encoding":{"color":{"field":"properties.prazas","type":"quantitative","legend":null,"scale":{"domain":[7801,30000,45000,59265],"range":["#fdc0b4","#f98469","#e84a44","#b10c35"]}}}},
    {"data":{"values":[{"lon":225,"lat":535,"t":"53.638"},{"lon":228,"lat":715,"t":"59.265"},{"lon":415,"lat":558,"t":"24.096"},{"lon":398,"lat":755,"t":"10.767"},{"lon":1190,"lat":513,"t":"21.262"},{"lon":1298,"lat":533,"t":"23.648"},{"lon":1218,"lat":600,"t":"7.801"}]},"mark":{"type":"text","baseline":"middle","color":"#5c2a30","fontSize":12},"encoding":{"longitude":{"field":"lon","type":"quantitative"},"latitude":{"field":"lat","type":"quantitative"},"text":{"field":"t"}}},
    {"data":{"name":"nomes"},"mark":{"type":"text","baseline":"middle","color":"#9a9a9a","fontSize":20,"clip":true},"encoding":{"longitude":{"field":"lon","type":"quantitative"},"latitude":{"field":"lat","type":"quantitative"},"text":{"field":"t"}}},
    {"data":{"values":[{"type":"Feature","properties":{"capa":"nota"},"geometry":{"type":"Polygon","coordinates":[[[55,1058],[565,1058],[565,1101],[55,1101],[55,1058]]]}}]},"mark":{"type":"geoshape","clip":true,"fill":"#f6f6f6","stroke":null}},
    {"data":{"values":[{"lon":62,"lat":1078,"t":"© 2023 Mapbox © OpenStreetMap"}]},"mark":{"type":"text","baseline":"middle","align":"left","color":"#666","fontSize":10},"encoding":{"longitude":{"field":"lon","type":"quantitative"},"latitude":{"field":"lat","type":"quantitative"},"text":{"field":"t"}}}
   ]}
 ]},
 {"width":4,"height":10,"data":{"values":[{}]},"mark":{"type":"point","opacity":0,"size":1},"encoding":{}},
 {"align":"none","resolve":{"scale":{"color":"independent","size":"independent"}},"vconcat":[
  {"width":10,"height":2,"data":{"values":[{}]},"mark":{"type":"point","opacity":0,"size":1},"encoding":{}},
  {"title":{"text":"% de Prazas por tipo e categoría","fontSize":16.6,"dx":3,"offset":7},
   "hconcat":[
    {"width":98,"height":426,"title":{"text":"Tipo","fontSize":12,"fontWeight":"bold","color":"#555","dx":5,"offset":3},"data":{"name":"t2f"},
     "layer":[
      {"transform":[{"filter":"datum.inicio"}],"mark":{"type":"rule","color":"#cfcfcf"},"encoding":{"y":{"field":"fila","type":"ordinal","bandPosition":0,"axis":null,"scale":{"type":"band","padding":0,"domain":[1,2,3,4,5,6,7,8,9,10,11,12,13,14,15,16,17,18,19,20,21,22]}}}},
      {"transform":[{"filter":"datum.fila==22"}],"mark":{"type":"rule","color":"#cfcfcf"},"encoding":{"y":{"field":"fila","type":"ordinal","bandPosition":1,"axis":null,"scale":{"type":"band","padding":0,"domain":[1,2,3,4,5,6,7,8,9,10,11,12,13,14,15,16,17,18,19,20,21,22]}}}},
      {"transform":[{"filter":"datum.inicio"}],"mark":{"type":"text","align":"left","baseline":"top","dx":5,"dy":3,"lineBreak":"\n","lineHeight":17,"fontWeight":"bold","color":"#5a5a5a"},"encoding":{"x":{"datum":0,"type":"quantitative","scale":{"domain":[0,1]},"axis":null},"y":{"field":"fila","type":"ordinal","bandPosition":0,"axis":null,"scale":{"type":"band","padding":0,"domain":[1,2,3,4,5,6,7,8,9,10,11,12,13,14,15,16,17,18,19,20,21,22]}},"text":{"field":"tipo"}}}
     ]},
    {"width":115,"height":426,"title":{"text":"Categoría","fontSize":12,"fontWeight":"bold","color":"#555","dx":4,"offset":3},"data":{"name":"t2f"},
     "layer":[
      {"transform":[{"filter":"datum.inicio||datum.total"}],"mark":{"type":"rule","color":"#cfcfcf"},"encoding":{"y":{"field":"fila","type":"ordinal","bandPosition":0,"axis":null,"scale":{"type":"band","padding":0,"domain":[1,2,3,4,5,6,7,8,9,10,11,12,13,14,15,16,17,18,19,20,21,22]}}}},
      {"transform":[{"filter":"datum.fila==22"}],"mark":{"type":"rule","color":"#cfcfcf"},"encoding":{"y":{"field":"fila","type":"ordinal","bandPosition":1,"axis":null,"scale":{"type":"band","padding":0,"domain":[1,2,3,4,5,6,7,8,9,10,11,12,13,14,15,16,17,18,19,20,21,22]}}}},
      {"mark":{"type":"text","align":"left","dx":4,"color":"#a5a5a5"},"encoding":{"x":{"datum":0,"type":"quantitative","scale":{"domain":[0,1]},"axis":null},"y":{"field":"fila","type":"ordinal","axis":null,"scale":{"type":"band","padding":0,"domain":[1,2,3,4,5,6,7,8,9,10,11,12,13,14,15,16,17,18,19,20,21,22]}},"text":{"field":"categoria"}}}
     ]},
    {"width":115,"height":426,
     "layer":[
      {"data":{"name":"t2"},"transform":[{"filter":"!datum.total"}],"mark":{"type":"rect"},"encoding":{"x":{"field":"ccaa","type":"nominal","title":"Nome (Comunidade ..","scale":{"type":"band","padding":0,"domain":["Galicia","País Vasco"]},"axis":{"orient":"top","labelAngle":0,"labelColor":"#666","labelFontWeight":"bold","labelPadding":4,"titlePadding":8,"titleAnchor":"start","domain":true,"domainColor":"#e4e4e4","labelExpr":"datum.value=='Galicia'?'Galicia':'País Vas..'"}},"y":{"field":"fila","type":"ordinal","axis":null,"scale":{"type":"band","padding":0,"domain":[1,2,3,4,5,6,7,8,9,10,11,12,13,14,15,16,17,18,19,20,21,22]}},"color":{"field":"pct","type":"quantitative","legend":null,"scale":{"domain":[0,7,13,22],"range":["#fdc4b8","#f98469","#e84a44","#a50b38"]}}}},
      {"data":{"name":"t2"},"transform":[{"filter":"!datum.total"}],"mark":{"type":"text","align":"right","dx":-4},"encoding":{"x":{"field":"ccaa","type":"nominal","bandPosition":1,"scale":{"type":"band","padding":0,"domain":["Galicia","País Vasco"]}},"y":{"field":"fila","type":"ordinal","axis":null,"scale":{"type":"band","padding":0,"domain":[1,2,3,4,5,6,7,8,9,10,11,12,13,14,15,16,17,18,19,20,21,22]}},"text":{"field":"t"},"color":{"condition":{"test":"datum.pct>=9.6","value":"#fbc9c2"},"value":"#7b3b3b"}}},
      {"data":{"name":"t2"},"transform":[{"filter":"datum.total"}],"mark":{"type":"text","align":"right","dx":-4,"fontWeight":"bold","color":"#444"},"encoding":{"x":{"field":"ccaa","type":"nominal","bandPosition":1,"scale":{"type":"band","padding":0,"domain":["Galicia","País Vasco"]}},"y":{"field":"fila","type":"ordinal","axis":null,"scale":{"type":"band","padding":0,"domain":[1,2,3,4,5,6,7,8,9,10,11,12,13,14,15,16,17,18,19,20,21,22]}},"text":{"field":"t"}}},
      {"data":{"name":"t2f"},"transform":[{"filter":"datum.inicio||datum.total"}],"mark":{"type":"rule","color":"#cfcfcf"},"encoding":{"y":{"field":"fila","type":"ordinal","bandPosition":0,"axis":null,"scale":{"type":"band","padding":0,"domain":[1,2,3,4,5,6,7,8,9,10,11,12,13,14,15,16,17,18,19,20,21,22]}}}},
      {"data":{"name":"t2f"},"transform":[{"filter":"datum.fila==22"}],"mark":{"type":"rule","color":"#cfcfcf"},"encoding":{"y":{"field":"fila","type":"ordinal","bandPosition":1,"axis":null,"scale":{"type":"band","padding":0,"domain":[1,2,3,4,5,6,7,8,9,10,11,12,13,14,15,16,17,18,19,20,21,22]}}}}
     ]}
   ]},
  {"width":10,"height":35,"data":{"values":[{}]},"mark":{"type":"point","opacity":0,"size":1},"encoding":{}},
  {"resolve":{"scale":{"color":"independent","size":"independent"}},"hconcat":[
   {"vconcat":[
    {"width":10,"height":3,"data":{"values":[{}]},"mark":{"type":"point","opacity":0,"size":1},"encoding":{}},
    {"width":154,"height":122,"title":{"text":["Nº de Prazas","por CCAA"],"fontSize":20.6,"lineHeight":26,"dx":4,"offset":27},
     "data":{"values":[{"ccaa":"Galicia","v":147766,"orde":1,"t":"147.766"},{"ccaa":"País Vasco","v":52711,"orde":2,"t":"52.711"}]},
     "layer":[
      {"mark":{"type":"arc","outerRadius":39},"encoding":{"theta":{"field":"v","type":"quantitative","stack":true},"order":{"field":"orde","type":"quantitative"},"color":{"field":"ccaa","type":"nominal","legend":null,"scale":{"domain":["Galicia","País Vasco"],"range":["#fdb9ab","#b10c35"]}}}},
      {"mark":{"type":"text","radius":62,"color":"#5f5f5f"},"encoding":{"theta":{"field":"v","type":"quantitative","stack":true},"order":{"field":"orde","type":"quantitative"},"text":{"field":"t"}}}
     ]}
   ]},
   {"width":84,"height":10,"data":{"values":[{}]},"mark":{"type":"point","opacity":0,"size":1},"encoding":{}},
   {"vconcat":[
    {"width":10,"height":1,"data":{"values":[{}]},"mark":{"type":"point","opacity":0,"size":1},"encoding":{}},
    {"width":240,"height":16,"title":{"text":"% de Prazas por tipo e categor..","fontSize":16.8,"offset":1},
     "data":{"values":[{"min":0.04,"max":23.48}]},
     "layer":[
      {"mark":{"type":"rect","stroke":"#b0a0a0","fill":{"gradient":"linear","x1":0,"x2":1,"y1":0,"y2":0,"stops":[{"offset":0,"color":"#fdc4b8"},{"offset":0.4,"color":"#f98469"},{"offset":0.7,"color":"#e84a44"},{"offset":1,"color":"#a50b38"}]}},"encoding":{"x":{"field":"min","type":"quantitative","axis":null,"scale":{"domain":[-7,34]}},"x2":{"field":"max"}}},
      {"mark":{"type":"text","align":"right","dx":-4,"color":"#888"},"encoding":{"x":{"field":"min","type":"quantitative","axis":null,"scale":{"domain":[-7,34]}},"text":{"value":"0,04%"}}},
      {"mark":{"type":"text","align":"left","dx":4,"color":"#888"},"encoding":{"x":{"field":"max","type":"quantitative","axis":null,"scale":{"domain":[-7,34]}},"text":{"value":"23,48%"}}}
     ]},
    {"width":10,"height":78,"data":{"values":[{}]},"mark":{"type":"point","opacity":0,"size":1},"encoding":{}},
    {"width":240,"height":19,"title":{"text":"Nº de Prazas por Comun..","fontSize":20.3,"offset":0},
     "data":{"values":[{"min":0,"v":200477}]},
     "layer":[
      {"mark":{"type":"rect","fill":"#d4d4d4","stroke":"#c4c4c4"},"encoding":{"x":{"field":"min","type":"quantitative","axis":null,"scale":{"domain":[-5000,603000]}},"x2":{"field":"v"}}},
      {"mark":{"type":"text","align":"left","dx":5,"color":"#888"},"encoding":{"x":{"field":"v","type":"quantitative","axis":null,"scale":{"domain":[-5000,603000]}},"text":{"value":"200.477"}}}
     ]}
   ]}
  ]}
 ]}
]}
]
}
